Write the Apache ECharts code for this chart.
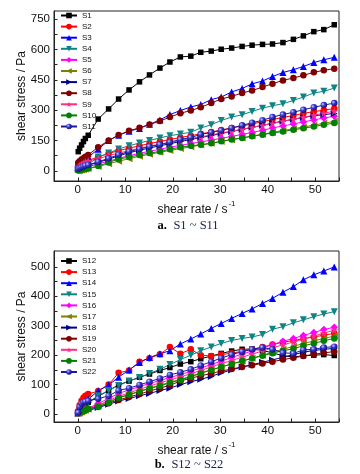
<!DOCTYPE html>
<html><head><meta charset="utf-8">
<script src="https://cdn.jsdelivr.net/npm/echarts@6/dist/echarts.min.js"></script>
<style>html,body{margin:0;padding:0;background:#fff}#c{width:360px;height:474px}</style>
</head><body><div id="c"></div>
<script>
// shear rate values (s^-1), shared by all series
const shearRate = [0.1, 0.4, 0.8, 1.2, 1.6, 2.2, 4.3, 6.5, 8.6, 10.8, 13.0, 15.1, 17.3, 19.4, 21.6, 23.8, 25.9, 28.1, 30.2, 32.4, 34.6, 36.7, 38.9, 41.0, 43.2, 45.4, 47.5, 49.7, 51.8, 54.0];

// ---- chart a: S1 ~ S11 (shear stress, Pa)
const namesA = ['S1','S2','S3','S4','S5','S6','S7','S8','S9','S10','S11'];
const S1  = [95, 112, 128, 145, 160, 176, 256, 306, 355, 400, 440, 474, 508, 538, 563, 567, 586, 592, 601, 607, 615, 621, 625, 627, 634, 650, 667, 688, 698, 722];
const S2  = [25, 30, 35, 40, 46, 52, 68, 86, 100, 112, 124, 135, 145, 155, 165, 174, 183, 192, 202, 212, 222, 232, 243, 254, 264, 274, 284, 293, 300, 308];
const S3  = [30, 38, 45, 52, 60, 68, 107, 150, 176, 196, 210, 230, 252, 278, 298, 316, 328, 352, 365, 390, 407, 430, 444, 466, 486, 500, 516, 535, 549, 561];
const S4  = [8, 12, 16, 20, 25, 32, 68, 88, 108, 124, 138, 150, 163, 174, 182, 191, 212, 228, 249, 266, 277, 294, 310, 322, 332, 348, 365, 385, 393, 409];
const S5  = [3, 6, 9, 12, 15, 20, 35, 48, 62, 75, 87, 97, 107, 117, 126, 135, 143, 152, 161, 170, 180, 190, 200, 212, 222, 232, 242, 252, 261, 270];
const S6  = [0, 2, 4, 6, 9, 12, 22, 35, 48, 60, 72, 82, 92, 101, 110, 119, 128, 136, 145, 154, 163, 172, 181, 190, 199, 208, 217, 226, 235, 245];
const S7  = [8, 12, 16, 20, 24, 28, 42, 58, 74, 90, 102, 113, 124, 134, 145, 155, 165, 175, 185, 195, 205, 215, 225, 236, 246, 255, 264, 272, 278, 284];
const S8  = [40, 48, 56, 63, 70, 79, 117, 150, 177, 198, 213, 229, 246, 266, 285, 298, 314, 335, 355, 368, 385, 397, 414, 431, 447, 459, 472, 487, 497, 505];
const S9  = [20, 26, 32, 38, 44, 50, 60, 75, 88, 100, 112, 122, 132, 141, 150, 160, 168, 178, 187, 196, 206, 215, 225, 235, 245, 255, 265, 275, 285, 295];
const S10 = [2, 4, 6, 8, 10, 12, 24, 42, 58, 68, 79, 88, 96, 107, 117, 124, 129, 137, 146, 155, 163, 171, 179, 187, 195, 203, 211, 219, 228, 236];
const S11 = [10, 14, 18, 22, 26, 30, 45, 62, 80, 96, 108, 120, 130, 142, 155, 165, 180, 190, 200, 212, 225, 238, 250, 266, 278, 290, 302, 314, 325, 335];

// ---- chart b: S12 ~ S22 (shear stress, Pa)
const namesB = ['S12','S13','S14','S15','S16','S17','S18','S19','S20','S21','S22'];
const S12 = [5, 10, 18, 25, 32, 40, 60, 80, 99, 112, 125, 136, 148, 158, 170, 178, 188, 197, 206, 214, 220, 221, 216, 208, 198, 194, 198, 200, 202, 199];
const S13 = [10, 30, 45, 55, 62, 68, 78, 100, 140, 148, 178, 190, 203, 228, 205, 220, 200, 197, 202, 207, 213, 220, 228, 236, 244, 250, 256, 262, 268, 274];
const S14 = [5, 20, 30, 38, 45, 50, 79, 99, 125, 150, 175, 192, 205, 215, 238, 255, 272, 291, 308, 325, 342, 357, 376, 393, 414, 433, 456, 473, 486, 500];
const S15 = [5, 12, 20, 28, 34, 40, 62, 80, 97, 112, 124, 138, 152, 168, 185, 200, 215, 228, 240, 250, 257, 262, 270, 288, 297, 310, 320, 331, 340, 348];
const S16 = [3, 6, 9, 12, 15, 19, 36, 53, 70, 82, 93, 104, 114, 124, 134, 145, 157, 168, 180, 192, 204, 214, 224, 236, 247, 257, 267, 277, 287, 295];
const S17 = [2, 4, 7, 10, 13, 16, 28, 42, 55, 66, 78, 88, 98, 108, 118, 128, 140, 150, 160, 170, 180, 190, 200, 210, 220, 230, 240, 248, 257, 265];
const S18 = [2, 4, 6, 8, 10, 12, 22, 33, 44, 53, 62, 70, 80, 88, 100, 110, 118, 128, 140, 150, 160, 168, 176, 184, 193, 202, 210, 216, 220, 223];
const S19 = [3, 6, 9, 12, 15, 18, 25, 37, 48, 58, 68, 78, 88, 98, 112, 122, 130, 138, 146, 153, 160, 166, 172, 178, 185, 191, 197, 203, 208, 212];
const S20 = [3, 6, 9, 12, 15, 18, 30, 46, 60, 72, 84, 95, 106, 116, 126, 137, 148, 160, 171, 182, 193, 204, 214, 225, 235, 245, 255, 265, 275, 285];
const S21 = [2, 5, 8, 11, 14, 17, 24, 38, 55, 66, 76, 87, 96, 106, 116, 127, 138, 150, 160, 170, 180, 189, 198, 207, 215, 222, 232, 240, 249, 257];
const S22 = [5, 25, 35, 40, 42, 45, 52, 62, 80, 88, 99, 110, 121, 133, 142, 152, 165, 178, 190, 202, 212, 220, 226, 220, 208, 206, 218, 220, 226, 229];

// tick values
const xLabelStep = 10;
const yTicksA = [0, 150, 300, 450, 600, 750];
const yMinorA = [0, 75, 150, 225, 300, 375, 450, 525, 600, 675, 750];
const yTicksB = [0, 100, 200, 300, 400, 500];
const yMinorB = [0, 50, 100, 150, 200, 250, 300, 350, 400, 450, 500];

// ---- styles
const STAR = 'path://M50,0 L61,35 L98,35 L68,57 L79,91 L50,70 L21,91 L32,57 L2,35 L39,35 Z';
const sphere = new echarts.graphic.RadialGradient(0.35, 0.35, 0.65, [
  {offset: 0, color: '#c8ccff'}, {offset: 0.45, color: '#3a3ad0'}, {offset: 1, color: '#12127a'}]);
const styles = [
  {color:'#000000', symbol:'rect', size:5.5},
  {color:'#ff0000', symbol:'circle', size:6.5},
  {color:'#0000ff', symbol:'triangle', size:7},
  {color:'#0f8484', symbol:'triangle', size:7, rot:180},
  {color:'#ff00ff', symbol:'diamond', size:7.5},
  {color:'#7f7f00', symbol:'triangle', size:7, rot:90},
  {color:'#000088', symbol:'triangle', size:7, rot:-90},
  {color:'#800000', symbol:'circle', size:6.5},
  {color:'#ff2a8a', symbol:STAR, size:8},
  {color:'#008000', symbol:'circle', size:6.5},
  {color:'#1818a0', symbol:'circle', size:6.5, fill: sphere}
];

const FONT = 'Liberation Sans, Arial, Helvetica, sans-serif';
const AX = '#222';

function xAxisFor(gi) {
  return {
    gridIndex: gi, type: 'value', min: -5, max: 55, interval: 5,
    axisLine: {show: true, onZero: false, lineStyle: {color: AX, width: 1}},
    axisTick: {show: true, inside: true, length: 3.5, lineStyle: {color: AX}},
    axisLabel: {color: '#111', fontSize: 11.5, fontFamily: FONT, margin: 3,
      formatter: v => (v >= 0 && v % xLabelStep === 0 ? String(v) : '')},
    splitLine: {show: false},
    name: '{a|shear rate / s}{b|-1}', nameLocation: 'middle', nameGap: 19,
    nameTextStyle: {rich: {
      a: {fontSize: 12, fontFamily: FONT, color: '#111', lineHeight: 16, verticalAlign: 'bottom'},
      b: {fontSize: 8, fontFamily: FONT, color: '#111', lineHeight: 9, verticalAlign: 'top', padding: [0, 0, 0, 1]}
    }}
  };
}
function yAxisFor(gi, min, max, labels, ticks) {
  return {
    gridIndex: gi, type: 'value', min, max,
    axisLine: {show: true, onZero: false, lineStyle: {color: AX, width: 1}},
    axisTick: {show: true, inside: true, length: 3.5, customValues: ticks, lineStyle: {color: AX}},
    axisLabel: {color: '#111', fontSize: 11.5, fontFamily: FONT, margin: 4, customValues: labels},
    splitLine: {show: false},
    name: 'shear stress / Pa', nameLocation: 'middle', nameGap: 26, nameMoveOverlap: false,
    nameTextStyle: {fontSize: 12, fontFamily: FONT, color: '#111'}
  };
}

function mk(name, values, st, gi) {
  return {
    name, type: 'line', xAxisIndex: gi, yAxisIndex: gi,
    data: shearRate.map((x, i) => [x, values[i]]),
    symbol: st.symbol, symbolSize: st.size, symbolRotate: st.rot || 0,
    showSymbol: true, showAllSymbol: true, clip: true,
    lineStyle: {color: st.color, width: 1},
    itemStyle: {color: st.fill || st.color, borderWidth: 0},
    emphasis: {disabled: true}
  };
}

const valsA = [S1, S2, S3, S4, S5, S6, S7, S8, S9, S10, S11];
const valsB = [S12, S13, S14, S15, S16, S17, S18, S19, S20, S21, S22];
const series = [];
namesA.forEach((n, i) => series.push(mk(n, valsA[i], styles[i], 0)));
namesB.forEach((n, i) => series.push(mk(n, valsB[i], styles[i], 1)));

function legendFor(names, top) {
  return {
    data: names, orient: 'vertical', left: 60, top, padding: 0, itemWidth: 16, itemHeight: 7, itemGap: 3.1,
    selectedMode: false,
    textStyle: {fontSize: 8, fontFamily: 'Liberation Sans Narrow, Liberation Sans, Arial', color: '#111', lineHeight: 7}
  };
}

const capRich = {
  a: {fontFamily: 'Liberation Serif, Times New Roman, serif', fontWeight: 'bold', fontSize: 12.5, fill: '#000'},
  b: {fontFamily: 'Liberation Serif, Times New Roman, serif', fontSize: 12.5, fill: '#17204f'}
};

const chart = echarts.init(document.getElementById('c'), null, {renderer: 'canvas'});
chart.setOption({
  animation: false,
  backgroundColor: '#fff',
  grid: [
    {left: 54, top: 11, width: 285, height: 170, show: true, borderColor: AX, borderWidth: 1, backgroundColor: 'transparent'},
    {left: 54, top: 251, width: 285, height: 171, show: true, borderColor: AX, borderWidth: 1, backgroundColor: 'transparent'}
  ],
  xAxis: [xAxisFor(0), xAxisFor(1)],
  yAxis: [yAxisFor(0, -50, 790, yTicksA, yMinorA), yAxisFor(1, -27, 554, yTicksB, yMinorB)],
  legend: [legendFor(namesA, 11.5), legendFor(namesB, 257)],
  series,
  graphic: [
    {type: 'text', x: 188, y: 226, style: {text: '{a|a.}  {b|S1 ~ S11}', rich: capRich, align: 'center', verticalAlign: 'middle'}},
    {type: 'text', x: 189, y: 465, style: {text: '{a|b.}  {b|S12 ~ S22}', rich: capRich, align: 'center', verticalAlign: 'middle'}}
  ]
});
</script>
</body></html>
